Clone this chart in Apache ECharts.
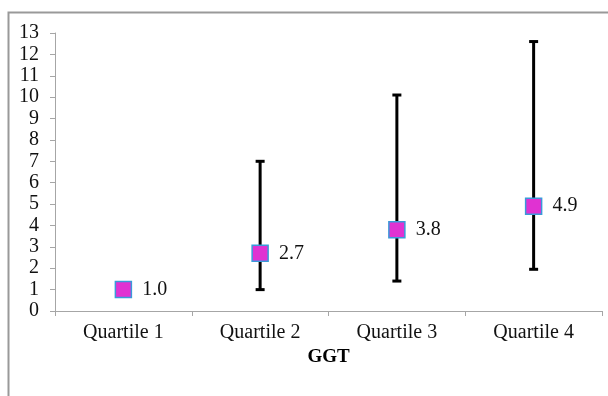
<!DOCTYPE html>
<html><head><meta charset="utf-8">
<script src="https://cdn.jsdelivr.net/npm/echarts@6/dist/echarts.min.js"></script>
<style>html,body{margin:0;padding:0;background:#fff}#c{width:608px;height:396px}</style>
</head><body><div id="c"></div>
<script>
const categories = ['Quartile 1', 'Quartile 2', 'Quartile 3', 'Quartile 4'];
const values = [1.0, 2.7, 3.8, 4.9];
const lower = [null, 1.0, 1.4, 1.95];
const upper = [null, 7.0, 10.1, 12.6];
const axisTitle = 'GGT';

const chart = echarts.init(document.getElementById('c'));
const font = '"Liberation Serif", "Times New Roman", serif';
const errData = categories.map((c, i) => [i, lower[i], upper[i]]).filter(d => d[1] != null);
chart.setOption({
  animation: false,
  graphic: [{type: 'rect', left: 6, top: 10, z: 100, shape: {width: 620, height: 400}, style: {fill: 'none', stroke: '#999', lineWidth: 2}}],
  grid: {left: 55, right: 6, top: 33, bottom: 85},
  xAxis: {
    type: 'category', data: categories,
    name: axisTitle, nameLocation: 'middle', nameGap: 34,
    nameTextStyle: {fontFamily: font, fontSize: 19, fontWeight: 'bold', color: '#000'},
    axisLine: {lineStyle: {color: '#a6a6a6', width: 1}},
    axisTick: {show: true, length: 5, lineStyle: {color: '#a6a6a6'}},
    axisLabel: {fontFamily: font, fontSize: 20, color: '#111', margin: 12}
  },
  yAxis: {
    type: 'value', min: 0, max: 13, interval: 1,
    axisLine: {show: true, lineStyle: {color: '#a6a6a6', width: 1}},
    axisTick: {show: true, length: 5, lineStyle: {color: '#a6a6a6'}},
    axisLabel: {fontFamily: font, fontSize: 20, color: '#111', margin: 16},
    splitLine: {show: false}
  },
  series: [
    {
      type: 'custom', data: errData, z: 1,
      renderItem: function (params, api) {
        const x = api.value(0);
        const lo = api.coord([x, api.value(1)]);
        const hi = api.coord([x, api.value(2)]);
        const w = 4.5;
        const st = {stroke: '#000', lineWidth: 3};
        return {type: 'group', children: [
          {type: 'line', shape: {x1: lo[0], y1: lo[1], x2: hi[0], y2: hi[1]}, style: st},
          {type: 'line', shape: {x1: lo[0] - w, y1: lo[1], x2: lo[0] + w, y2: lo[1]}, style: st},
          {type: 'line', shape: {x1: hi[0] - w, y1: hi[1], x2: hi[0] + w, y2: hi[1]}, style: st}
        ]};
      }
    },
    {
      type: 'scatter', data: values, z: 10,
      symbol: 'rect', symbolSize: 16,
      itemStyle: {color: '#e032d2', borderColor: '#3a9ad9', borderWidth: 1.5, opacity: 1},
      label: {show: true, position: 'right', distance: 10, formatter: p => p.value.toFixed(1),
        fontFamily: font, fontSize: 20, color: '#111'}
    }
  ]
});
</script></body></html>
